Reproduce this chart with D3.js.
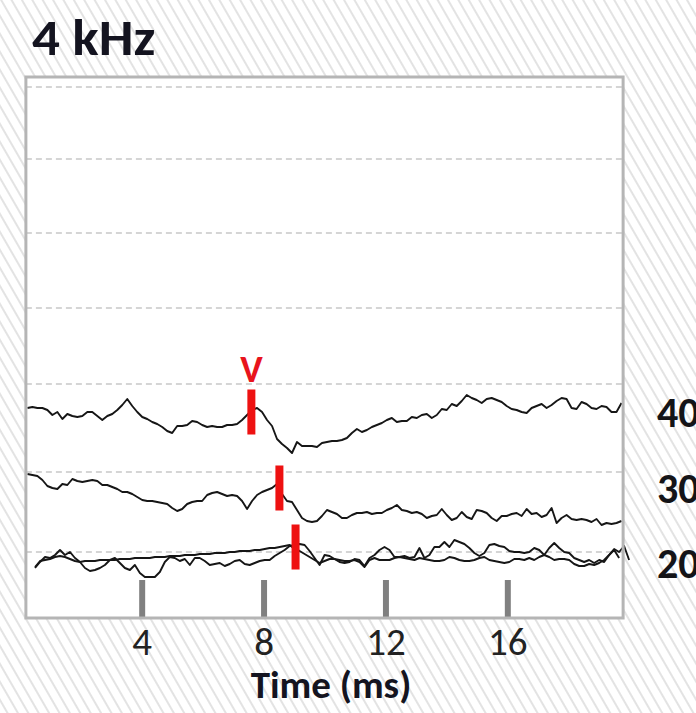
<!DOCTYPE html>
<html>
<head>
<meta charset="utf-8">
<script src="https://cdn.jsdelivr.net/npm/d3@7"></script>
<style>
  html, body { margin: 0; padding: 0; background: #fff; }
  svg { display: block; }
  text { font-family: Carlito, Lato, "Open Sans", sans-serif; }
</style>
</head>
<body>
<div id="chart"></div>
<script>
// ABR waveforms, 4 kHz tone pips, three stimulus levels (dB SPL)
const levelsDb = [40, 30, 20];
// vertical baseline of each level's traces (µV on the stacked axis)
const levelOffset = [2.34, 1.46, 0.66];
// dashed reference lines (µV on the stacked axis)
const gridLevels = [0.66, 1.46, 2.34, 3.10, 3.85, 4.59, 5.31];
const timeTicks = [4, 8, 12, 16];

// sampling interval (ms) and first sample time of each record
const sampleInterval = 0.16384;
const start40 = 0.25, start30 = 0.25, start20 = 0.5;

// averaged responses, µV relative to the level baseline
const trace40 = [
  -0.24,-0.23,-0.24,-0.24,-0.26,-0.31,-0.28,-0.35,-0.30,-0.32,
  -0.33,-0.32,-0.28,-0.28,-0.32,-0.36,-0.32,-0.30,-0.26,-0.21,
  -0.15,-0.22,-0.28,-0.33,-0.35,-0.38,-0.40,-0.43,-0.47,-0.49,
  -0.42,-0.42,-0.41,-0.37,-0.38,-0.41,-0.43,-0.42,-0.43,-0.43,
  -0.41,-0.41,-0.40,-0.36,-0.31,-0.26,-0.24,-0.28,-0.36,-0.42,
  -0.55,-0.60,-0.64,-0.69,-0.58,-0.62,-0.62,-0.62,-0.63,-0.59,
  -0.58,-0.57,-0.57,-0.56,-0.54,-0.49,-0.45,-0.48,-0.46,-0.43,
  -0.41,-0.39,-0.36,-0.34,-0.38,-0.37,-0.37,-0.33,-0.34,-0.31,
  -0.30,-0.34,-0.31,-0.25,-0.26,-0.20,-0.22,-0.17,-0.11,-0.14,
  -0.16,-0.19,-0.15,-0.14,-0.16,-0.18,-0.22,-0.25,-0.26,-0.28,
  -0.29,-0.24,-0.22,-0.20,-0.24,-0.21,-0.17,-0.14,-0.15,-0.24,
  -0.25,-0.18,-0.20,-0.24,-0.25,-0.22,-0.23,-0.28,-0.28,-0.19
];
const trace30 = [
  -0.02,-0.03,-0.04,-0.08,-0.14,-0.16,-0.17,-0.12,-0.13,-0.07,
  -0.09,-0.10,-0.09,-0.08,-0.09,-0.13,-0.13,-0.15,-0.17,-0.20,
  -0.20,-0.22,-0.25,-0.28,-0.29,-0.29,-0.30,-0.31,-0.32,-0.36,
  -0.39,-0.37,-0.32,-0.30,-0.29,-0.29,-0.23,-0.21,-0.20,-0.22,
  -0.24,-0.23,-0.24,-0.29,-0.37,-0.29,-0.23,-0.20,-0.18,-0.16,
  -0.12,-0.22,-0.29,-0.30,-0.38,-0.46,-0.49,-0.50,-0.49,-0.44,
  -0.38,-0.40,-0.42,-0.46,-0.46,-0.43,-0.41,-0.41,-0.40,-0.42,
  -0.41,-0.41,-0.38,-0.36,-0.33,-0.38,-0.39,-0.41,-0.40,-0.42,
  -0.46,-0.44,-0.43,-0.37,-0.43,-0.48,-0.46,-0.40,-0.45,-0.47,
  -0.38,-0.39,-0.41,-0.46,-0.49,-0.44,-0.44,-0.42,-0.41,-0.44,
  -0.37,-0.42,-0.41,-0.45,-0.43,-0.36,-0.51,-0.46,-0.43,-0.47,
  -0.48,-0.47,-0.48,-0.50,-0.47,-0.53,-0.51,-0.52,-0.51,-0.49
];
// two replicate averages at 20 dB
const trace20a = [
  -0.16,-0.10,-0.05,-0.06,-0.03, 0.02,-0.03, 0.00,-0.06,-0.10,
  -0.16,-0.19,-0.18,-0.16,-0.13,-0.08,-0.06,-0.11,-0.16,-0.18,
  -0.13,-0.21,-0.25,-0.25,-0.25,-0.20,-0.10,-0.05,-0.06,-0.09,
  -0.07,-0.13,-0.06,-0.06,-0.09,-0.13,-0.12,-0.11,-0.14,-0.12,
  -0.09,-0.08,-0.12,-0.13,-0.11,-0.09,-0.08,-0.08,-0.04,-0.01,
   0.02, 0.06, 0.07, 0.08, 0.07, 0.01,-0.06,-0.13,-0.03,-0.04,
  -0.07,-0.10,-0.11,-0.10,-0.07,-0.08,-0.14,-0.06,-0.03, 0.02,
   0.05, 0.02,-0.05,-0.05,-0.04,-0.06,-0.05, 0.04,-0.06,-0.03,
   0.05, 0.05, 0.10, 0.05, 0.12, 0.10, 0.08, 0.04,-0.01,-0.04,
  -0.01, 0.07, 0.08, 0.06, 0.05, 0.01, 0.00, 0.00,-0.01, 0.00,
   0.04, 0.02,-0.03, 0.04, 0.09, 0.04, 0.00,-0.01,-0.06,-0.08,
  -0.10,-0.08,-0.11,-0.08,-0.10,-0.03, 0.03, 0.00, 0.06,-0.08
];
const trace20b = [
  -0.15,-0.09,-0.08,-0.07,-0.05,-0.04,-0.05,-0.07,-0.09,-0.10,
  -0.09,-0.09,-0.09,-0.08,-0.08,-0.08,-0.08,-0.07,-0.07,-0.07,
  -0.06,-0.06,-0.06,-0.06,-0.05,-0.05,-0.05,-0.04,-0.04,-0.04,
  -0.03,-0.03,-0.03,-0.02,-0.02,-0.02,-0.01,-0.01,-0.01, 0.00,
   0.00, 0.01, 0.01, 0.01, 0.02, 0.02, 0.03, 0.04, 0.04, 0.05,
   0.06, 0.07, 0.03, 0.01,-0.02,-0.05,-0.08,-0.11,-0.09,-0.07,
  -0.07,-0.08,-0.09,-0.09,-0.08,-0.10,-0.15,-0.08,-0.06,-0.08,
  -0.08,-0.08,-0.06,-0.05,-0.06,-0.07,-0.08,-0.06,-0.07,-0.08,
  -0.09,-0.09,-0.08,-0.05,-0.06,-0.08,-0.09,-0.09,-0.08,-0.06,
  -0.05,-0.08,-0.09,-0.10,-0.11,-0.10,-0.07,-0.07,-0.08,-0.06,
  -0.08,-0.05,-0.03,-0.05,-0.08,-0.07,-0.07,-0.08,-0.12,-0.14,
  -0.14,-0.12,-0.13,-0.11,-0.08,-0.03, 0.02,-0.06
];

// wave V picks (latency ms, amplitude µV relative to baseline), 40/30/20 dB
const waveVLatency = [7.60, 8.52, 9.05];
const waveVAmp = [-0.28, -0.16, 0.05];

// ---------------------------------------------------------------
const W = 696, H = 713;
const x = d3.scaleLinear().domain([0, 20]).range([19.8, 629.2]);
const y = d3.scaleLinear().domain([0, 5.41]).range([618, 77]);
const plotT = [0.2, 19.8];      // time span framed by the box
const plotV = [0, 5.41];        // amplitude span framed by the box
const labelV = [1.91, 1.15, 0.40]; // level label baselines (µV)

const svg = d3.select("#chart").append("svg")
  .attr("width", W).attr("height", H);

// diagonal hatching behind everything
const defs = svg.append("defs");
const pat = defs.append("pattern")
  .attr("id", "hatch")
  .attr("patternUnits", "userSpaceOnUse")
  .attr("width", 9).attr("height", 9)
  .attr("patternTransform", "rotate(-30)");
pat.append("rect").attr("width", 9).attr("height", 9).attr("fill", "#ffffff");
pat.append("line").attr("x1", 1).attr("y1", 0).attr("x2", 1).attr("y2", 9)
  .attr("stroke", "#e3e3e3").attr("stroke-width", 2);
svg.append("rect").attr("width", W).attr("height", H).attr("fill", "url(#hatch)");

// plot panel
svg.append("rect")
  .attr("x", x(plotT[0])).attr("y", y(plotV[1]))
  .attr("width", x(plotT[1]) - x(plotT[0]))
  .attr("height", y(plotV[0]) - y(plotV[1]))
  .attr("fill", "#fff");

// dashed reference lines
svg.append("g").selectAll("line").data(gridLevels).join("line")
  .attr("x1", x(plotT[0])).attr("x2", x(plotT[1]))
  .attr("y1", d => y(d)).attr("y2", d => y(d))
  .attr("stroke", "#acacac").attr("stroke-width", 1.2)
  .attr("stroke-dasharray", "6,4");

// time axis with inward bar ticks
const axis = d3.axisBottom(x).tickValues(timeTicks).tickSize(-38).tickFormat(d3.format("d"));
const gx = svg.append("g").attr("transform", `translate(0,${y(plotV[0])})`).call(axis);
gx.select(".domain").remove();
gx.selectAll(".tick line").attr("stroke", "#808080").attr("stroke-width", 6);
gx.selectAll(".tick text")
  .attr("y", 37).attr("dy", 0)
  .attr("fill", "#222")
  .style("font-size", "39px")
  .style("font-family", "Carlito, Lato, sans-serif");

// waveforms
const records = [
  { data: trace40, t0: start40, base: levelOffset[0] },
  { data: trace30, t0: start30, base: levelOffset[1] },
  { data: trace20a, t0: start20, base: levelOffset[2] },
  { data: trace20b, t0: start20, base: levelOffset[2] }
];
svg.append("g").selectAll("path").data(records).join("path")
  .attr("d", r => d3.line()
    .x((v, i) => x(r.t0 + i * sampleInterval))
    .y(v => y(r.base + v))(r.data))
  .attr("fill", "none")
  .attr("stroke", "#161616")
  .attr("stroke-width", 1.9)
  .attr("stroke-linejoin", "round");

// panel frame
svg.append("rect")
  .attr("x", x(plotT[0])).attr("y", y(plotV[1]))
  .attr("width", x(plotT[1]) - x(plotT[0]))
  .attr("height", y(plotV[0]) - y(plotV[1]))
  .attr("fill", "none")
  .attr("stroke", "#b5b5b5").attr("stroke-width", 3);

// wave V markers
svg.append("g").selectAll("rect").data(waveVLatency).join("rect")
  .attr("x", d => x(d) - 4)
  .attr("y", (d, i) => y(levelOffset[i] + waveVAmp[i]) - 22.5)
  .attr("width", 8).attr("height", 45)
  .attr("fill", "#ee1111");
svg.append("text")
  .attr("x", x(waveVLatency[0])).attr("y", y(levelOffset[0]) - 2)
  .attr("text-anchor", "middle")
  .attr("fill", "#e8141c")
  .style("font-size", "38px").style("font-weight", 700)
  .text("V");

// level labels
svg.append("g").selectAll("text").data(levelsDb).join("text")
  .attr("x", 657).attr("y", (d, i) => y(labelV[i]))
  .attr("fill", "#141418")
  .style("font-size", "42px").style("font-weight", 700)
  .text(d => d);

// title and axis title
svg.append("text").attr("x", 32).attr("y", 55)
  .attr("fill", "#141420")
  .attr("transform", "translate(32,0) scale(1.08,1) translate(-32,0)")
  .style("font-size", "51px").style("font-weight", 700)
  .text("4 kHz");
svg.append("text").attr("x", 331).attr("y", 698)
  .attr("text-anchor", "middle")
  .attr("fill", "#141420")
  .style("font-size", "39px").style("font-weight", 700)
  .text("Time (ms)");
</script>
</body>
</html>
